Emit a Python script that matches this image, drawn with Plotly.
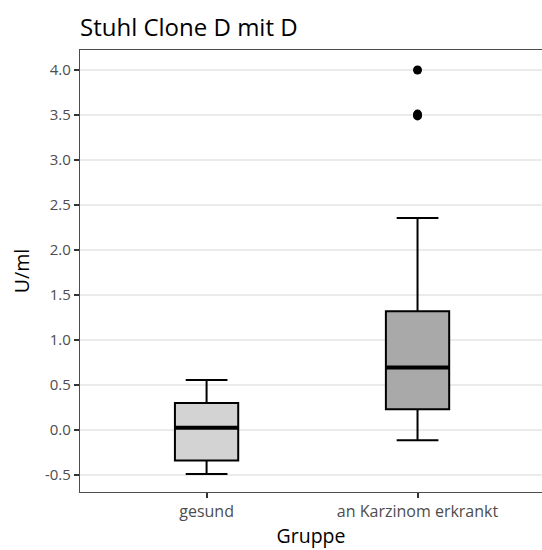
import plotly.graph_objects as go

categories = ["gesund", "an Karzinom erkrankt"]
q1 = [-0.34, 0.23]
median = [0.025, 0.695]
q3 = [0.30, 1.32]
lower_whisker = [-0.49, -0.115]
upper_whisker = [0.555, 2.355]
fills = ["#d3d3d3", "#a9a9a9"]
outlier_group = ["an Karzinom erkrankt", "an Karzinom erkrankt", "an Karzinom erkrankt"]
outlier_values = [4.0, 3.49, 3.51]
y_ticks = [-0.5, 0.0, 0.5, 1.0, 1.5, 2.0, 2.5, 3.0, 3.5, 4.0]

pos = {c: i + 1 for i, c in enumerate(categories)}
box_w = 0.3

fig = go.Figure()
for i, c in enumerate(categories):
    fig.add_trace(go.Box(
        x=[pos[c]], q1=[q1[i]], median=[median[i]], q3=[q3[i]],
        lowerfence=[lower_whisker[i]], upperfence=[upper_whisker[i]],
        width=box_w, whiskerwidth=0.66, fillcolor=fills[i],
        line=dict(color="black", width=2), boxpoints=False,
        hoverinfo="skip", showlegend=False,
    ))
    fig.add_trace(go.Scatter(
        x=[pos[c] - box_w / 2, pos[c] + box_w / 2], y=[median[i], median[i]],
        mode="lines", line=dict(color="black", width=4),
        hoverinfo="skip", showlegend=False,
    ))

fig.add_trace(go.Scatter(
    x=[pos[g] for g in outlier_group], y=outlier_values, mode="markers",
    marker=dict(color="black", size=9), showlegend=False, hoverinfo="skip",
))

font_family = "Open Sans, Noto Sans, sans-serif"
fig.update_layout(
    width=542, height=550,
    margin=dict(l=80, r=0, t=50, b=58),
    plot_bgcolor="white", paper_bgcolor="white",
    font=dict(family=font_family, color="black"),
    title=dict(text="Stuhl Clone D mit D", x=80 / 542, xanchor="left",
               y=1 - 36 / 550, yanchor="bottom",
               font=dict(size=24, color="black")),
    xaxis=dict(
        range=[0.4, 2.59], tickmode="array",
        tickvals=[pos[c] for c in categories], ticktext=categories,
        showgrid=False, zeroline=False,
        showline=True, linecolor="#4d4d4d", linewidth=1.3, mirror=True,
        ticks="outside", ticklen=5, tickcolor="#333333", tickwidth=1.5,
        tickfont=dict(size=16, color="#4d4d4d"),
        title=dict(text="Gruppe", font=dict(size=19.5, color="black"), standoff=2),
    ),
    yaxis=dict(
        range=[-0.689, 4.222], tickmode="array", tickvals=y_ticks,
        ticktext=[f"{v:.1f}" for v in y_ticks],
        showgrid=True, gridcolor="#ebebeb", gridwidth=1.5, zeroline=False,
        showline=True, linecolor="#4d4d4d", linewidth=1.3,
        ticks="outside", ticklen=5, tickcolor="#333333", tickwidth=1.5,
        tickfont=dict(size=15, color="#4d4d4d"),
        title=dict(text="U/ml", font=dict(size=19.5, color="black"), standoff=10),
    ),
)

fig.write_html("out.html")
